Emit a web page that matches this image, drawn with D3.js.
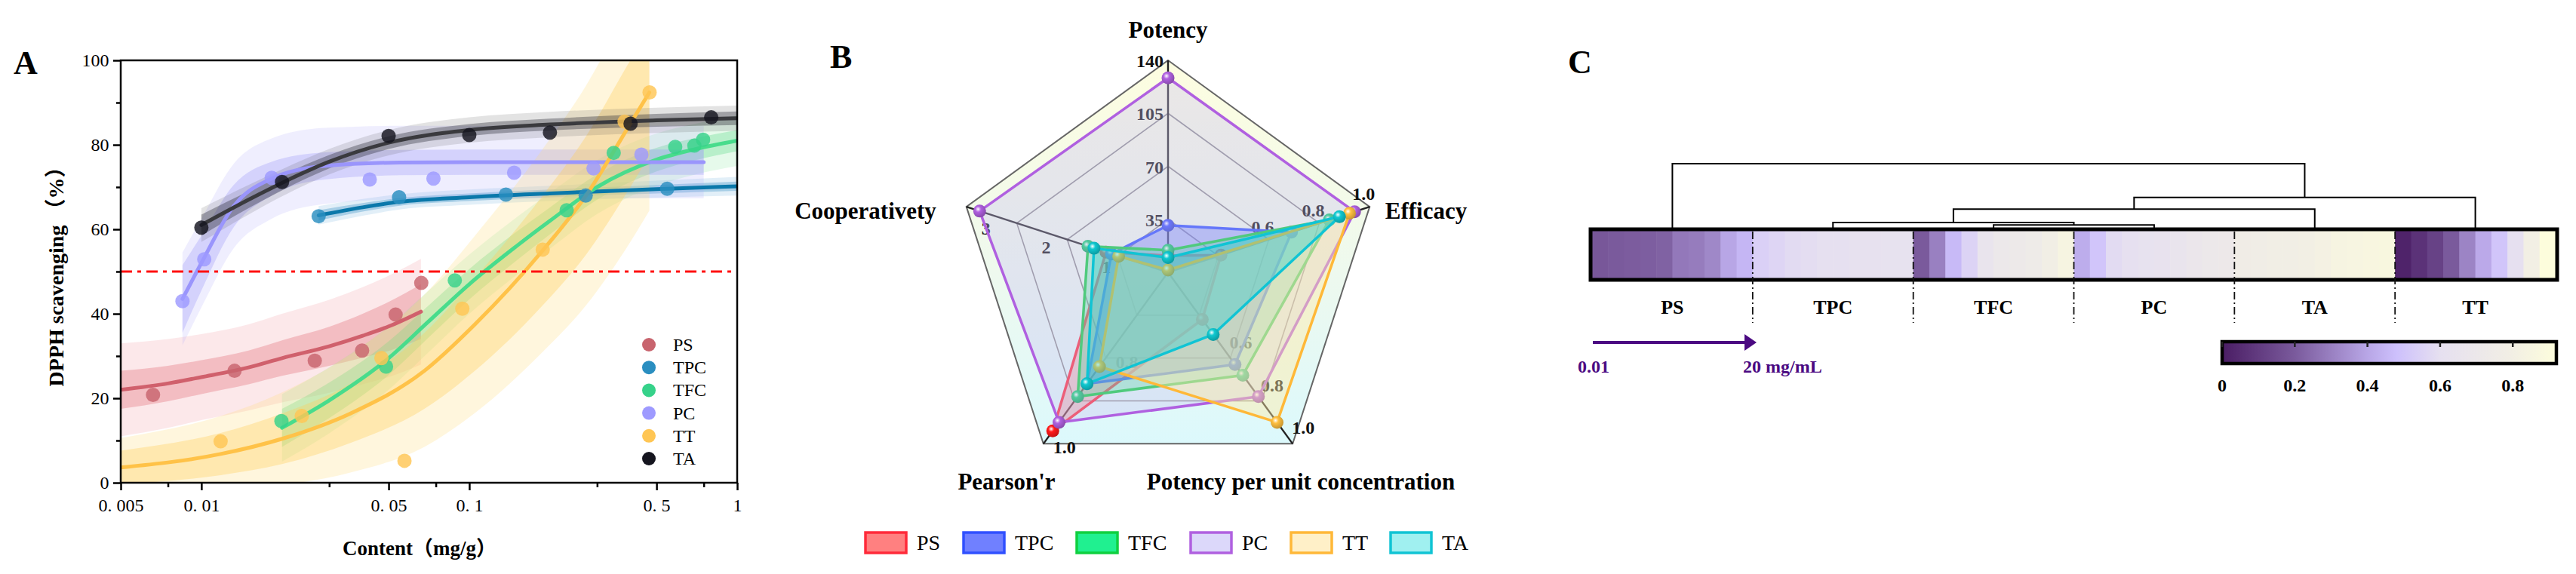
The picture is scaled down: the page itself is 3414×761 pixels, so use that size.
<!DOCTYPE html>
<html lang="en">
<head>
<meta charset="utf-8">
<title>DPPH scavenging</title>
<script src="https://cdn.jsdelivr.net/npm/d3@7"></script>
<style>
body { margin: 0; background: #fff; }
svg { display: block; }
</style>
</head>
<body>
<script>
// ---------- A: dose-response data ----------
var psX = [0.0066, 0.0133, 0.0265, 0.0398, 0.0531, 0.0662];
var psY = [20.8, 26.5, 28.9, 31.3, 39.8, 47.3];
var psFitX = [0.005, 0.0075, 0.01, 0.015, 0.02, 0.03, 0.04, 0.05, 0.066];
var psFitY = [22, 23.5, 25, 27.3, 29.5, 32.3, 34.8, 37, 40.5];
var psCI = [4.5, 4.2, 4, 4, 4.2, 4.6, 5.2, 5.8, 6.5];
var psPI = [11, 10.5, 10.2, 10.2, 10.5, 11, 11.5, 12, 12.5];

var tpcX = [0.0274, 0.0547, 0.137, 0.272, 0.548];
var tpcY = [63.1, 67.6, 68.2, 68.0, 69.6];
var tpcFitX = [0.0274, 0.04, 0.055, 0.1, 0.2, 0.5, 1];
var tpcFitY = [63.3, 65.2, 66.5, 67.6, 68.5, 69.5, 70.2];
var tpcCI = [1.2, 1, 0.9, 0.9, 0.9, 1, 1.1];
var tpcPI = [2.2, 2, 1.8, 1.8, 1.8, 2, 2.2];

var tfcX = [0.0199, 0.0489, 0.0883, 0.231, 0.346, 0.587, 0.692, 0.746];
var tfcY = [14.6, 27.5, 47.9, 64.5, 78.1, 79.5, 79.8, 81.2];
var tfcFitX = [0.02, 0.03, 0.05, 0.07, 0.1, 0.15, 0.2, 0.3, 0.5, 0.7, 1];
var tfcFitY = [13, 19.5, 29.5, 38, 47, 56, 62, 70, 76.5, 79, 81];
var tfcCI = [4.5, 4.2, 4, 3.8, 3.6, 3.4, 3.2, 3, 2.8, 2.6, 2.5];
var tfcPI = [8, 7.8, 7.5, 7.3, 7, 6.8, 6.6, 6.4, 6.2, 6, 6];

var pcX = [0.0085, 0.01025, 0.0183, 0.0425, 0.0735, 0.147, 0.291, 0.439];
var pcY = [43, 52.9, 72.2, 71.8, 72, 73.4, 74.4, 77.7];
var pcFitX = [0.0085, 0.01, 0.0132, 0.0183, 0.0288, 0.055, 0.1, 0.3, 0.75];
var pcFitY = [43.5, 52, 65.5, 72, 75, 75.8, 75.9, 75.9, 75.9];
var pcCI = [8, 6.5, 5, 4, 3.2, 3, 3, 3, 3];
var pcPI = [11, 10.5, 10, 9.5, 9, 8.7, 8.6, 8.6, 8.6];

var ttX = [0.0118, 0.0237, 0.047, 0.0573, 0.0942, 0.188, 0.38, 0.471];
var ttY = [9.8, 15.8, 29.5, 5.2, 41.2, 55.2, 85.5, 92.4];
var ttFitX = [0.005, 0.0118, 0.02, 0.036, 0.068, 0.105, 0.188, 0.272, 0.40, 0.47];
var ttFitY = [3.6, 6.8, 10.4, 16.4, 26.5, 37.5, 55, 67.9, 85.1, 92.4];
var ttCI = [4, 5, 6, 7, 9, 11, 13, 14, 15, 15];
var ttPI = [7, 9, 11, 14, 18, 21, 24, 26, 28, 28];

var taX = [0.01, 0.02, 0.05, 0.1, 0.2, 0.4, 0.8];
var taY = [60.4, 71.2, 82.1, 82.3, 82.9, 85.0, 86.5];
var taFitX = [0.01, 0.015, 0.02, 0.03, 0.05, 0.1, 0.2, 0.5, 1];
var taFitY = [61, 67, 71, 76, 80.5, 83.5, 84.8, 85.8, 86.3];
var taCI = [2.5, 2, 1.8, 1.6, 1.5, 1.4, 1.4, 1.5, 1.6];
var taPI = [4, 3.5, 3.2, 3, 3, 3, 3, 3, 3];

var xMajor = [0.005, 0.01, 0.05, 0.1, 0.5, 1];
var xMajorLabels = ["0. 005", "0. 01", "0. 05", "0. 1", "0. 5", "1"];
var xMinor = [0.0075, 0.03, 0.075, 0.3, 0.75];
var yMajor = [0, 20, 40, 60, 80, 100];
var yMinor = [10, 30, 50, 70, 90];
var halfLine = 50;

// ---------- B: radar data ----------
var radarAxes = ["Potency", "Efficacy", "Potency per unit concentration", "Pearson'r", "Cooperativety"];
var radarMin = [0, 0.2, 0.2, 0.6, 0.05];
var radarMax = [140, 1.0, 1.0, 1.0, 3.4];
var radarNames = ["PS", "TPC", "TFC", "PC", "TT", "TA"];
var psRadar = [11, 0.41, 0.42, 0.97, 1.08];
var tpcRadar = [31, 0.69, 0.63, 0.86, 0.99];
var tfcRadar = [14.6, 0.84, 0.68, 0.89, 1.38];
var pcRadar = [128.4, 0.94, 0.78, 0.95, 3.18];
var ttRadar = [1.5, 0.92, 0.90, 0.82, 0.87];
var taRadar = [9.7, 0.88, 0.49, 0.86, 1.28];
var potencyTicks = [35, 70, 105, 140];
var efficacyTicks = [0.6, 0.8, 1.0];
var ppucTicks = [0.6, 0.8, 1.0];
var pearsonTicks = [0.8, 1.0];
var coopTicks = [1, 2, 3];

// ---------- C: heat strip data ----------
var heatGroups = ["PS", "TPC", "TFC", "PC", "TA", "TT"];
var psHeat = [0.19, 0.2, 0.205, 0.21, 0.22, 0.28, 0.29, 0.32, 0.4, 0.45];
var tpcHeat = [0.54, 0.56, 0.58, 0.59, 0.6, 0.6, 0.61, 0.61, 0.62, 0.62];
var tfcHeat = [0.2, 0.3, 0.46, 0.55, 0.65, 0.7, 0.72, 0.74, 0.78, 0.84];
var pcHeat = [0.42, 0.5, 0.58, 0.6, 0.62, 0.63, 0.65, 0.68, 0.7, 0.71];
var taHeat = [0.76, 0.77, 0.78, 0.79, 0.8, 0.82, 0.84, 0.85, 0.86, 0.87];
var ttHeat = [0.02, 0.07, 0.12, 0.2, 0.31, 0.41, 0.5, 0.6, 0.8, 0.92];
var cmapStops = [0, 0.2, 0.4, 0.48, 0.6, 0.8, 0.92];
var cmapColors = ["#4a1d64", "#7a5a9c", "#b8a6e6", "#cdc0fc", "#e6e0f0", "#f2efe4", "#fdfddc"];
var cbarTicks = [0, 0.2, 0.4, 0.6, 0.8];
// merges: [left, right, height]
var linkage = [
    ["TFC", "PC", 0.055],
    ["TPC", "n0", 0.093],
    ["n1", "TA", 0.30],
    ["n2", "TT", 0.48],
    ["PS", "n3", 1.0]
];

var w = 3414;
var h = 761;
var serif = "'Liberation Serif', 'Times New Roman', 'Noto Serif', serif";
var cjk = "'Liberation Serif', 'Noto Sans CJK SC', serif";

var svg = d3.select("body")
            .append("svg")
            .attr("width", w)
            .attr("height", h);
svg.append("rect").attr("width", w).attr("height", h).attr("fill", "#fff");
var defs = svg.append("defs");

// ================= Panel A =================
var xA = d3.scaleLog().domain([0.005, 1]).range([160, 977]);
var yA = d3.scaleLinear().domain([0, 100]).range([640, 80]);

defs.append("clipPath").attr("id", "clipA")
    .append("rect").attr("x", 160).attr("y", 80).attr("width", 817).attr("height", 560);

var seriesA = [
    {name: "PS", x: psX, y: psY, fx: psFitX, fy: psFitY, ci: psCI, pi: psPI,
     line: "#d0606c", dot: "#c8646e", inner: "rgba(225,110,120,0.35)", outer: "rgba(245,165,170,0.25)"},
    {name: "TPC", x: tpcX, y: tpcY, fx: tpcFitX, fy: tpcFitY, ci: tpcCI, pi: tpcPI,
     line: "#0a78aa", dot: "#2a8ec0", inner: "rgba(30,130,190,0.3)", outer: "rgba(110,175,220,0.2)"},
    {name: "TFC", x: tfcX, y: tfcY, fx: tfcFitX, fy: tfcFitY, ci: tfcCI, pi: tfcPI,
     line: "#48dc8c", dot: "#36d28a", inner: "rgba(80,215,125,0.3)", outer: "rgba(130,230,155,0.2)"},
    {name: "PC", x: pcX, y: pcY, fx: pcFitX, fy: pcFitY, ci: pcCI, pi: pcPI,
     line: "#9a95fc", dot: "#9e9aff", inner: "rgba(150,145,250,0.3)", outer: "rgba(175,170,250,0.2)"},
    {name: "TT", x: ttX, y: ttY, fx: ttFitX, fy: ttFitY, ci: ttCI, pi: ttPI,
     line: "#ffc248", dot: "#ffc654", inner: "rgba(255,205,90,0.35)", outer: "rgba(255,220,120,0.25)"},
    {name: "TA", x: taX, y: taY, fx: taFitX, fy: taFitY, ci: taCI, pi: taPI,
     line: "#3a3a3e", dot: "#15151f", inner: "rgba(35,35,45,0.35)", outer: "rgba(70,70,70,0.15)"}
];

var gA = svg.append("g");
var plotA = gA.append("g").attr("clip-path", "url(#clipA)");

function band(s, key) {
    return s.fx.map(function(x, i) { return {x: x, y: s.fy[i], hw: s[key][i]}; });
}
var areaA = d3.area()
    .x(function(d) { return xA(d.x); })
    .y0(function(d) { return yA(d.y - d.hw); })
    .y1(function(d) { return yA(d.y + d.hw); })
    .curve(d3.curveMonotoneX);
var lineA = d3.line()
    .x(function(d) { return xA(d.x); })
    .y(function(d) { return yA(d.y); })
    .curve(d3.curveMonotoneX);

seriesA.forEach(function(s) {
    plotA.append("path").attr("d", areaA(band(s, "pi"))).attr("fill", s.outer);
    plotA.append("path").attr("d", areaA(band(s, "ci"))).attr("fill", s.inner);
});
seriesA.forEach(function(s) {
    plotA.append("path").attr("d", lineA(band(s, "ci")))
        .attr("fill", "none").attr("stroke", s.line).attr("stroke-width", 5)
        .attr("stroke-linecap", "round");
});
seriesA.forEach(function(s) {
    plotA.selectAll(null)
        .data(s.x.map(function(x, i) { return {x: x, y: s.y[i]}; }))
        .enter()
        .append("circle")
        .attr("cx", function(d) { return xA(d.x); })
        .attr("cy", function(d) { return yA(d.y); })
        .attr("r", 9.5)
        .attr("fill", s.dot)
        .attr("fill-opacity", 0.82);
});

// 50% line
gA.append("line")
    .attr("x1", xA(0.005)).attr("x2", xA(1))
    .attr("y1", yA(halfLine)).attr("y2", yA(halfLine))
    .attr("stroke", "#ff1010").attr("stroke-width", 3)
    .attr("stroke-dasharray", "15,7,5,7");

// axes
var axB = gA.append("g").attr("transform", "translate(0,640)")
    .call(d3.axisBottom(xA).tickValues(xMajor).tickSize(10).tickSizeOuter(0)
        .tickFormat(function(d, i) { return xMajorLabels[i]; }));
gA.append("g").attr("transform", "translate(0,640)")
    .call(d3.axisBottom(xA).tickValues(xMinor).tickSize(6).tickFormat(""));
var axL = gA.append("g").attr("transform", "translate(160,0)")
    .call(d3.axisLeft(yA).tickValues(yMajor).tickSize(10).tickSizeOuter(0));
gA.append("g").attr("transform", "translate(160,0)")
    .call(d3.axisLeft(yA).tickValues(yMinor).tickSize(6).tickFormat(""));
gA.selectAll(".domain").remove();
gA.selectAll(".tick line").attr("stroke", "#000").attr("stroke-width", 2.5);
gA.selectAll(".tick text").attr("font-family", serif).attr("font-size", 24).attr("fill", "#000");
axB.selectAll(".tick text").attr("dy", "1.05em");
axL.selectAll(".tick text").attr("dx", "-0.1em");

gA.append("rect")
    .attr("x", 160).attr("y", 80).attr("width", 817).attr("height", 560)
    .attr("fill", "none").attr("stroke", "#000").attr("stroke-width", 2.5);

gA.append("text")
    .attr("transform", "translate(84,360) rotate(-90)")
    .attr("text-anchor", "middle")
    .attr("font-family", cjk).attr("font-weight", "bold").attr("font-size", 28)
    .text("DPPH scavenging （%）");
gA.append("text")
    .attr("x", 556).attr("y", 736)
    .attr("text-anchor", "middle")
    .attr("font-family", cjk).attr("font-weight", "bold").attr("font-size", 27)
    .text("Content（mg/g）");
gA.append("text")
    .attr("x", 18).attr("y", 98)
    .attr("font-family", serif).attr("font-weight", "bold").attr("font-size", 44)
    .text("A");

// legend A
var legA = gA.append("g");
seriesA.forEach(function(s, i) {
    legA.append("circle").attr("cx", 860).attr("cy", 457 + i * 30.2).attr("r", 9).attr("fill", s.dot);
    legA.append("text").attr("x", 892).attr("y", 465 + i * 30.2)
        .attr("font-family", serif).attr("font-size", 24).text(s.name);
});

// ================= Panel B =================
var cx = 1548, cy = 361, R = 281;
var gB = svg.append("g");
var rScales = radarAxes.map(function(a, i) {
    return d3.scaleLinear().domain([radarMin[i], radarMax[i]]).range([0, 1]);
});
function rp(i, f) {
    var a = i * 2 * Math.PI / 5;
    return [cx + R * f * Math.sin(a), cy - R * f * Math.cos(a)];
}
function ring(f) {
    return d3.range(5).map(function(i) { return rp(i, f); });
}
var bg = defs.append("linearGradient").attr("id", "radarBg")
    .attr("x1", 0).attr("y1", 0).attr("x2", 0).attr("y2", 1);
bg.append("stop").attr("offset", "0%").attr("stop-color", "#fdfde0");
bg.append("stop").attr("offset", "55%").attr("stop-color", "#eef9ee");
bg.append("stop").attr("offset", "100%").attr("stop-color", "#dcf9fc");

var polyLine = d3.line().curve(d3.curveLinearClosed);
gB.append("path").attr("d", polyLine(ring(1))).attr("fill", "url(#radarBg)")
    .attr("stroke", "#666").attr("stroke-width", 2);
[0.25, 0.5, 0.75].forEach(function(f) {
    gB.append("path").attr("d", polyLine(ring(f))).attr("fill", "none")
        .attr("stroke", "#8a8a8a").attr("stroke-width", 1.6);
});
d3.range(5).forEach(function(i) {
    var p = rp(i, 1);
    gB.append("line").attr("x1", cx).attr("y1", cy).attr("x2", p[0]).attr("y2", p[1])
        .attr("stroke", "#222").attr("stroke-width", 2.4);
});

// tick labels (under the polygons)
var tickSets = [potencyTicks, efficacyTicks, ppucTicks, pearsonTicks, coopTicks];
var tickFmt = [d3.format("d"), d3.format(".1f"), d3.format(".1f"), d3.format(".1f"), d3.format("d")];
var tickOff = [[-6, 9, "end"], [-8, -9, "middle"], [14, -13, "middle"], [28, 13, "middle"], [-6, 26, "middle"]];
tickSets.forEach(function(ticks, i) {
    ticks.forEach(function(t) {
        var p = rp(i, rScales[i](t));
        gB.append("text")
            .attr("x", p[0] + tickOff[i][0]).attr("y", p[1] + tickOff[i][1])
            .attr("text-anchor", tickOff[i][2])
            .attr("font-family", serif).attr("font-weight", "bold").attr("font-size", 24)
            .attr("fill", "#111")
            .text(tickFmt[i](t));
    });
});

var radarSeries = [
    {name: "PS", v: psRadar, stroke: "#ff2a3a", fill: "#ff5a5a", op: 0.33, ball: "#ff1a1a", lg: "#ff8080"},
    {name: "TPC", v: tpcRadar, stroke: "#3050ff", fill: "#4a5cff", op: 0.4, ball: "#3a50ff", lg: "#7080ff"},
    {name: "TFC", v: tfcRadar, stroke: "#10d040", fill: "#10e070", op: 0.3, ball: "#10d070", lg: "#20f090"},
    {name: "PC", v: pcRadar, stroke: "#b060e0", fill: "#c8c0f2", op: 0.35, ball: "#b060e0", lg: "#dcd8fa"},
    {name: "TT", v: ttRadar, stroke: "#ffb838", fill: "#ffe9a6", op: 0.45, ball: "#ffc040", lg: "#fff0c8"},
    {name: "TA", v: taRadar, stroke: "#10c4d4", fill: "#30d0d0", op: 0.38, ball: "#10c8d0", lg: "#a0f0f0"}
];
radarSeries.forEach(function(s, k) {
    var g = defs.append("radialGradient").attr("id", "ball" + k)
        .attr("cx", "38%").attr("cy", "35%").attr("r", "65%");
    g.append("stop").attr("offset", "0%").attr("stop-color", "#ffffff");
    g.append("stop").attr("offset", "35%").attr("stop-color", s.ball);
    g.append("stop").attr("offset", "100%").attr("stop-color", d3.color(s.ball).darker(0.7));
});
radarSeries.forEach(function(s, k) {
    var pts = s.v.map(function(v, i) { return rp(i, rScales[i](v)); });
    gB.append("path").attr("d", polyLine(pts))
        .attr("fill", s.fill).attr("fill-opacity", s.op)
        .attr("stroke", s.stroke).attr("stroke-width", 3.5).attr("stroke-linejoin", "round");
    gB.selectAll(null).data(pts).enter().append("circle")
        .attr("cx", function(d) { return d[0]; })
        .attr("cy", function(d) { return d[1]; })
        .attr("r", 8.5)
        .attr("fill", "url(#ball" + k + ")");
});

// axis names
var nameOff = [[0, -311, "middle"], [342, -71, "middle"], [176, 288, "middle"], [-214, 288, "middle"], [-401, -71, "middle"]];
radarAxes.forEach(function(a, i) {
    gB.append("text")
        .attr("x", cx + nameOff[i][0]).attr("y", cy + nameOff[i][1])
        .attr("text-anchor", nameOff[i][2])
        .attr("font-family", serif).attr("font-weight", "bold").attr("font-size", 31)
        .text(a);
});
gB.append("text").attr("x", 1100).attr("y", 90)
    .attr("font-family", serif).attr("font-weight", "bold").attr("font-size", 44).text("B");

// legend B
var legXs = [1147, 1277, 1427, 1578, 1711, 1843];
radarSeries.forEach(function(s, i) {
    gB.append("rect").attr("x", legXs[i]).attr("y", 706).attr("width", 54).attr("height", 27)
        .attr("fill", s.lg).attr("stroke", s.stroke).attr("stroke-width", 3.5);
    gB.append("text").attr("x", legXs[i] + 68).attr("y", 729)
        .attr("font-family", serif).attr("font-size", 28).text(s.name);
});

// ================= Panel C =================
var gC = svg.append("g");
var heatVals = [psHeat, tpcHeat, tfcHeat, pcHeat, taHeat, ttHeat];
var cells = [];
heatVals.forEach(function(arr, gi) {
    arr.forEach(function(v, j) { cells.push({g: heatGroups[gi], i: gi * 10 + j, v: v}); });
});
var xC = d3.scaleBand().domain(d3.range(cells.length)).range([2110, 3387]);
var cmap = d3.scaleLinear().domain(cmapStops).range(cmapColors).interpolate(d3.interpolateRgb).clamp(true);
var stripTop = 306, stripH = 63;

gC.selectAll("rect.cell").data(cells).enter().append("rect")
    .attr("class", "cell")
    .attr("x", function(d) { return xC(d.i); })
    .attr("y", stripTop)
    .attr("width", xC.bandwidth() + 0.6)
    .attr("height", stripH)
    .attr("fill", function(d) { return cmap(d.v); });
gC.append("rect").attr("x", 2108).attr("y", stripTop - 2).attr("width", 3389 - 2108)
    .attr("height", stripH + 4).attr("fill", "none").attr("stroke", "#000").attr("stroke-width", 5);

var groupX = {};
heatGroups.forEach(function(g, gi) {
    groupX[g] = xC(gi * 10) + xC.bandwidth() * 5;
});
// dividers
d3.range(1, heatGroups.length).forEach(function(gi) {
    var x = xC(gi * 10);
    gC.append("line").attr("x1", x).attr("x2", x).attr("y1", stripTop + 1).attr("y2", 428)
        .attr("stroke", "#111").attr("stroke-width", 1.8).attr("stroke-dasharray", "10,4,2,4");
});
heatGroups.forEach(function(g) {
    gC.append("text").attr("x", groupX[g]).attr("y", 416).attr("text-anchor", "middle")
        .attr("font-family", serif).attr("font-weight", "bold").attr("font-size", 26).text(g);
});

// dendrogram
var yD = d3.scaleLinear().domain([0, 1]).range([stripTop - 3, 217]);
var nodeY = {};
heatGroups.forEach(function(g) { nodeY[g] = 0; });
linkage.forEach(function(m, k) {
    var a = m[0], b = m[1], hgt = m[2];
    var xa = groupX[a], xb = groupX[b];
    gC.append("path")
        .attr("d", "M" + xa + "," + yD(nodeY[a]) + "V" + yD(hgt) + "H" + xb + "V" + yD(nodeY[b]))
        .attr("fill", "none").attr("stroke", "#000").attr("stroke-width", 2);
    groupX["n" + k] = (xa + xb) / 2;
    nodeY["n" + k] = hgt;
});

// concentration arrow
var purple = "#4b0a82";
gC.append("line").attr("x1", 2111).attr("x2", 2314).attr("y1", 454).attr("y2", 454)
    .attr("stroke", purple).attr("stroke-width", 4);
gC.append("path").attr("d", "M2312,443L2328,454L2312,465Z").attr("fill", purple);
gC.append("text").attr("x", 2112).attr("y", 494).attr("text-anchor", "middle")
    .attr("font-family", serif).attr("font-weight", "bold").attr("font-size", 24)
    .attr("fill", purple).text("0.01");
gC.append("text").attr("x", 2310).attr("y", 494)
    .attr("font-family", serif).attr("font-weight", "bold").attr("font-size", 24)
    .attr("fill", purple).text("20 mg/mL");

// colour bar
var xCb = d3.scaleLinear().domain([0, 0.92]).range([2945, 3388]);
var cbg = defs.append("linearGradient").attr("id", "cbar");
cmapStops.forEach(function(s, i) {
    cbg.append("stop").attr("offset", (s / 0.92 * 100) + "%").attr("stop-color", cmapColors[i]);
});
gC.append("rect").attr("x", 2945).attr("y", 453).attr("width", 3388 - 2945).attr("height", 29)
    .attr("fill", "url(#cbar)").attr("stroke", "#000").attr("stroke-width", 4.5);
cbarTicks.forEach(function(t) {
    gC.append("line").attr("x1", xCb(t)).attr("x2", xCb(t)).attr("y1", 453).attr("y2", 460)
        .attr("stroke", "#222").attr("stroke-width", 2.5);
    gC.append("text").attr("x", xCb(t)).attr("y", 519).attr("text-anchor", "middle")
        .attr("font-family", serif).attr("font-weight", "bold").attr("font-size", 24)
        .text(t === 0 ? "0" : d3.format(".1f")(t));
});
gC.append("text").attr("x", 2078).attr("y", 97)
    .attr("font-family", serif).attr("font-weight", "bold").attr("font-size", 44).text("C");
</script>
</body>
</html>
